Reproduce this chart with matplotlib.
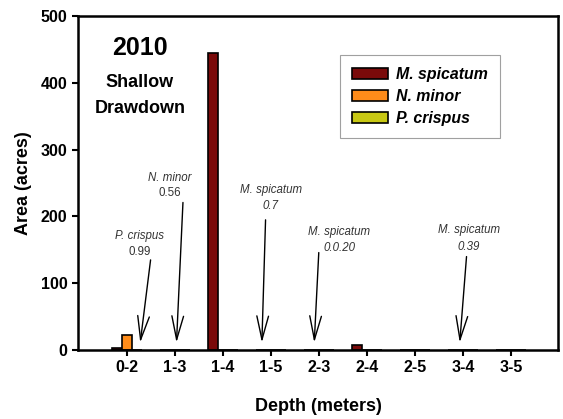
import numpy as np
import matplotlib
matplotlib.use('Agg')
import matplotlib.pyplot as plt

plt.rcParams['font.family'] = ['Liberation Sans', 'DejaVu Sans']

# datos
depths = ['0-2', '1-3', '1-4', '1-5', '2-3', '2-4', '2-5', '3-4', '3-5']
m_spicatum = [3, 0, 445, 0, 0, 8, 0, 0, 0]
n_minor = [22, 0, 0, 0, 0, 0, 0, 0, 0]
p_crispus = [0, 0, 0, 0, 0, 0, 0, 0, 0]

# notas con flechas: (especie, valor, posicion de texto, cola, punta)
notes = [
    ('P. crispus', '0.99', 0.27, 171, 147, (0.50, 139), (0.27, 7)),
    ('N. minor', '0.56', 0.90, 257, 235, (1.17, 225), (1.03, 7)),
    ('M. spicatum', '0.7', 3.00, 240, 216, (2.89, 199), (2.81, 7)),
    ('M. spicatum', '0.0.20', 4.42, 177, 153, (4.00, 150), (3.90, 7)),
    ('M. spicatum', '0.39', 7.12, 180, 154, (7.08, 144), (6.93, 7)),
]

fig = plt.figure(figsize=(5.63, 4.19), dpi=100)
ax = fig.add_axes([0.1385, 0.1647, 0.8525, 0.7971])

x = np.arange(len(depths))
w = 0.21
ax.bar(x - w, m_spicatum, w, color='#7a0a0a', edgecolor='black', linewidth=1.2, label='M. spicatum')
ax.bar(x, n_minor, w, color='#ff8c1a', edgecolor='black', linewidth=1.2, label='N. minor')
ax.bar(x + w, p_crispus, w, color='#c8c814', edgecolor='black', linewidth=1.2, label='P. crispus')

for sp, val, tx, ty1, ty2, tail, head in notes:
    ax.text(tx, ty1, sp, fontsize=8.3, style='italic', color='#333333', ha='center', va='center')
    ax.text(tx, ty2, val, fontsize=8.3, style='italic' if sp == 'M. spicatum' else 'normal',
            color='#333333', ha='center', va='center')
    ax.annotate('', xy=head, xytext=tail,
                arrowprops=dict(arrowstyle='->,head_length=1.7,head_width=0.42', color='black', lw=1.0))

ax.text(0.27, 452, '2010', fontsize=18, fontweight='bold', ha='center', va='center')
ax.text(0.27, 401, 'Shallow', fontsize=13, fontweight='bold', ha='center', va='center')
ax.text(0.27, 362, 'Drawdown', fontsize=13, fontweight='bold', ha='center', va='center')

ax.set_xlim(-1.02, 8.98)
ax.set_ylim(0, 500)
ax.set_xticks(x)
ax.set_xticklabels(depths)
ax.set_yticks([0, 100, 200, 300, 400, 500])
for lbl in ax.get_xticklabels() + ax.get_yticklabels():
    lbl.set_fontweight('bold')
    lbl.set_fontsize(11.5)
ax.tick_params(direction='out', width=1.5, length=4)
for s in ax.spines.values():
    s.set_linewidth(1.8)

ax.set_xlabel('Depth (meters)', fontsize=13, fontweight='bold', labelpad=16)
ax.set_ylabel('Area (acres)', fontsize=13, fontweight='bold', labelpad=6)

leg = ax.legend(loc='upper left', bbox_to_anchor=(0.546, 0.883), borderaxespad=0,
                frameon=True, fancybox=False,
                edgecolor='#888888', prop={'weight': 'bold', 'style': 'italic', 'size': 11.4},
                handlelength=2.3, handleheight=0.7, handletextpad=0.5, labelspacing=0.45,
                borderpad=0.75)
leg.get_frame().set_linewidth(0.8)

fig.savefig('out.png', dpi=100)
